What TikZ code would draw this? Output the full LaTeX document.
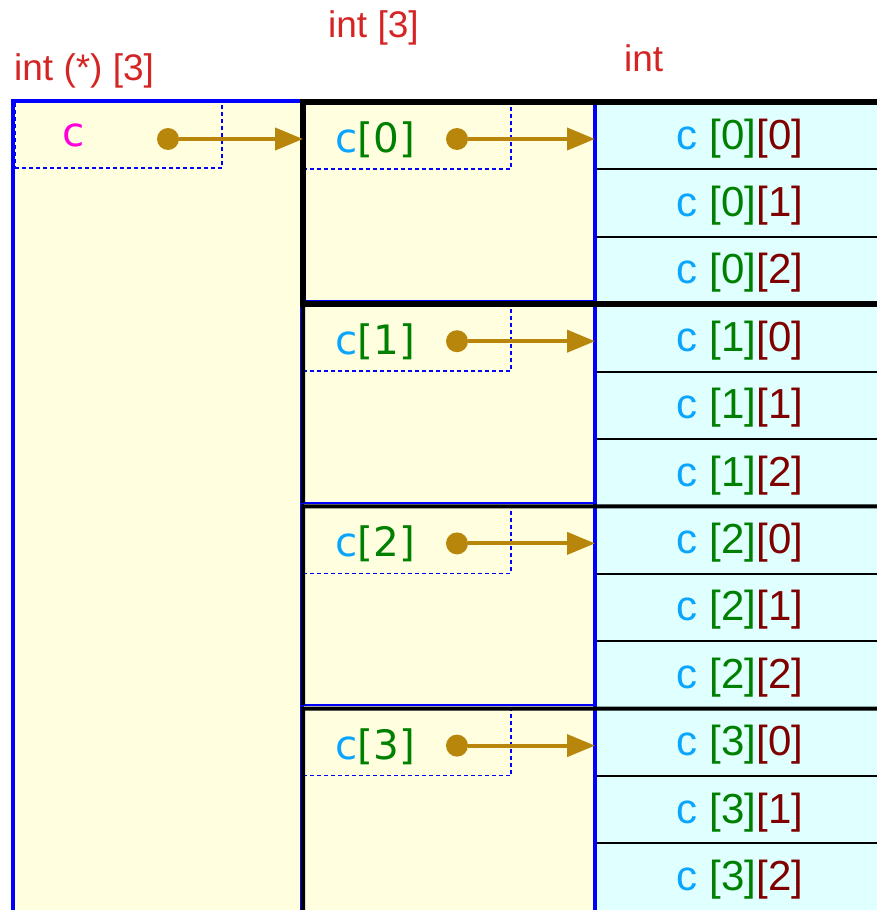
\documentclass[tikz,border=0pt]{standalone}
\usepackage{fontspec}
\newfontfamily\lsans{Liberation Sans}
\newfontfamily\dvsans{DejaVu Sans}
\usetikzlibrary{arrows.meta, positioning, calc}
\definecolor{ptrfill}{HTML}{FFFFE0}
\definecolor{elemfill}{HTML}{E0FFFF}
\definecolor{typered}{HTML}{D42424}
\definecolor{arrgold}{HTML}{B8860B}
\definecolor{namecyan}{HTML}{0AA5FF}
\definecolor{idxgreen}{HTML}{008000}
\definecolor{idxred}{HTML}{800000}
\definecolor{namepink}{HTML}{FF00DD}
\definecolor{edgeblue}{HTML}{0000FF}
\tikzset{
    typelabel/.style={text=typered, font=\lsans\fontsize{37}{37}\selectfont, inner sep=0pt, anchor=base west},
    ptrbox/.style={rectangle, fill=ptrfill, draw=edgeblue, line width=1.5pt, anchor=north west, inner sep=0pt, outer sep=0pt},
    slotbox/.style={rectangle, draw=edgeblue, line width=1.6pt, dash pattern=on 4pt off 3pt, anchor=north west, minimum width=208pt, minimum height=67pt, inner sep=0pt, outer sep=0pt},
    elembox/.style={rectangle, fill=elemfill, draw=black, line width=2pt, anchor=north west, minimum width=290pt, minimum height=67.4pt, inner sep=0pt, outer sep=0pt, text height=30.6pt, text depth=4pt, font=\lsans\fontsize{42}{42}\selectfont},
    ptrdot/.style={circle, fill=arrgold, minimum size=22pt, inner sep=0pt},
    arr/.style={-{Triangle[length=28pt, width=22pt]}, line width=4pt, draw=arrgold},
    rowname/.style={font=\dvsans\fontsize{40.5}{40.5}\selectfont, inner sep=0pt, anchor=base},
    grpline/.style={draw=black, line width=4pt, line join=miter}
}

\begin{document}
\begin{tikzpicture}[x=1pt, y=-1pt, node distance=0pt]
    \useasboundingbox (0,0) rectangle (877,910);
    \clip (0,0) rectangle (877,910);

    % pointer c
    \node[ptrbox, line width=3.6pt, minimum width=289pt, minimum height=850pt] (cvar) at (13,101) {};

    % rows c[0] .. c[3]
    \foreach \i/\rowht in {0/198.7, 1/198.7, 2/198.7, 3/240} {
        \pgfmathsetmacro\rowtop{102+202.2*\i}
        \node[ptrbox, minimum width=292pt, minimum height=\rowht pt] (row\i) at (303,\rowtop) {};
    }

    % elements c[i][j]
    \foreach \i in {0,...,3} {
        \foreach \j in {0,1,2} {
            \pgfmathsetmacro\celltop{102+67.4*(3*\i+\j)}
            \node[elembox] (e\i\j) at (595,\celltop) {{\color{namecyan}c} {\color{idxgreen}[\i]}{\color{idxred}[\j]}};
        }
    }

    % dotted slots
    \node[slotbox, minimum width=207pt] (cslot) at (15,101) {};
    \foreach \i in {0,...,3} {
        \node[slotbox] (slot\i) at (row\i.north west) {};
    }

    \draw[edgeblue, line width=4pt] (row0.north east) -- (row3.south east);

    % group outlines
    \draw[black, line width=6pt, line join=miter] (row0.north west) rectangle (e02.south east);
    \foreach \i in {1,2,3} {
        \draw[grpline] (row\i.south west) -- (row\i.north west) -- (e\i0.north east);
    }

    % type labels
    \node[typelabel] (tcvar) at (14,80) {int (*) [3]};
    \node[typelabel] (trow) at (328,37) {int [3]};
    \node[typelabel] (telem) at (624,71) {int};

    % names, dots and arrows
    \node[rowname, text=namepink] (cname) at (74,146) {c};
    \node[ptrdot] (cdot) at (168,139) {};
    \draw[arr] (cdot) -- (cdot -| row0.west);

    \foreach \i in {0,...,3} {
        \node[rowname] (name\i) at ($(row\i.north west)+(72,50.5)$) {{\color{namecyan}c}{\color{idxgreen}[\i]}};
        \node[ptrdot] (dot\i) at ($(row\i.north west)+(154,37)$) {};
        \draw[arr] (dot\i) -- (dot\i -| e\i0.west);
    }
\end{tikzpicture}
\end{document}
